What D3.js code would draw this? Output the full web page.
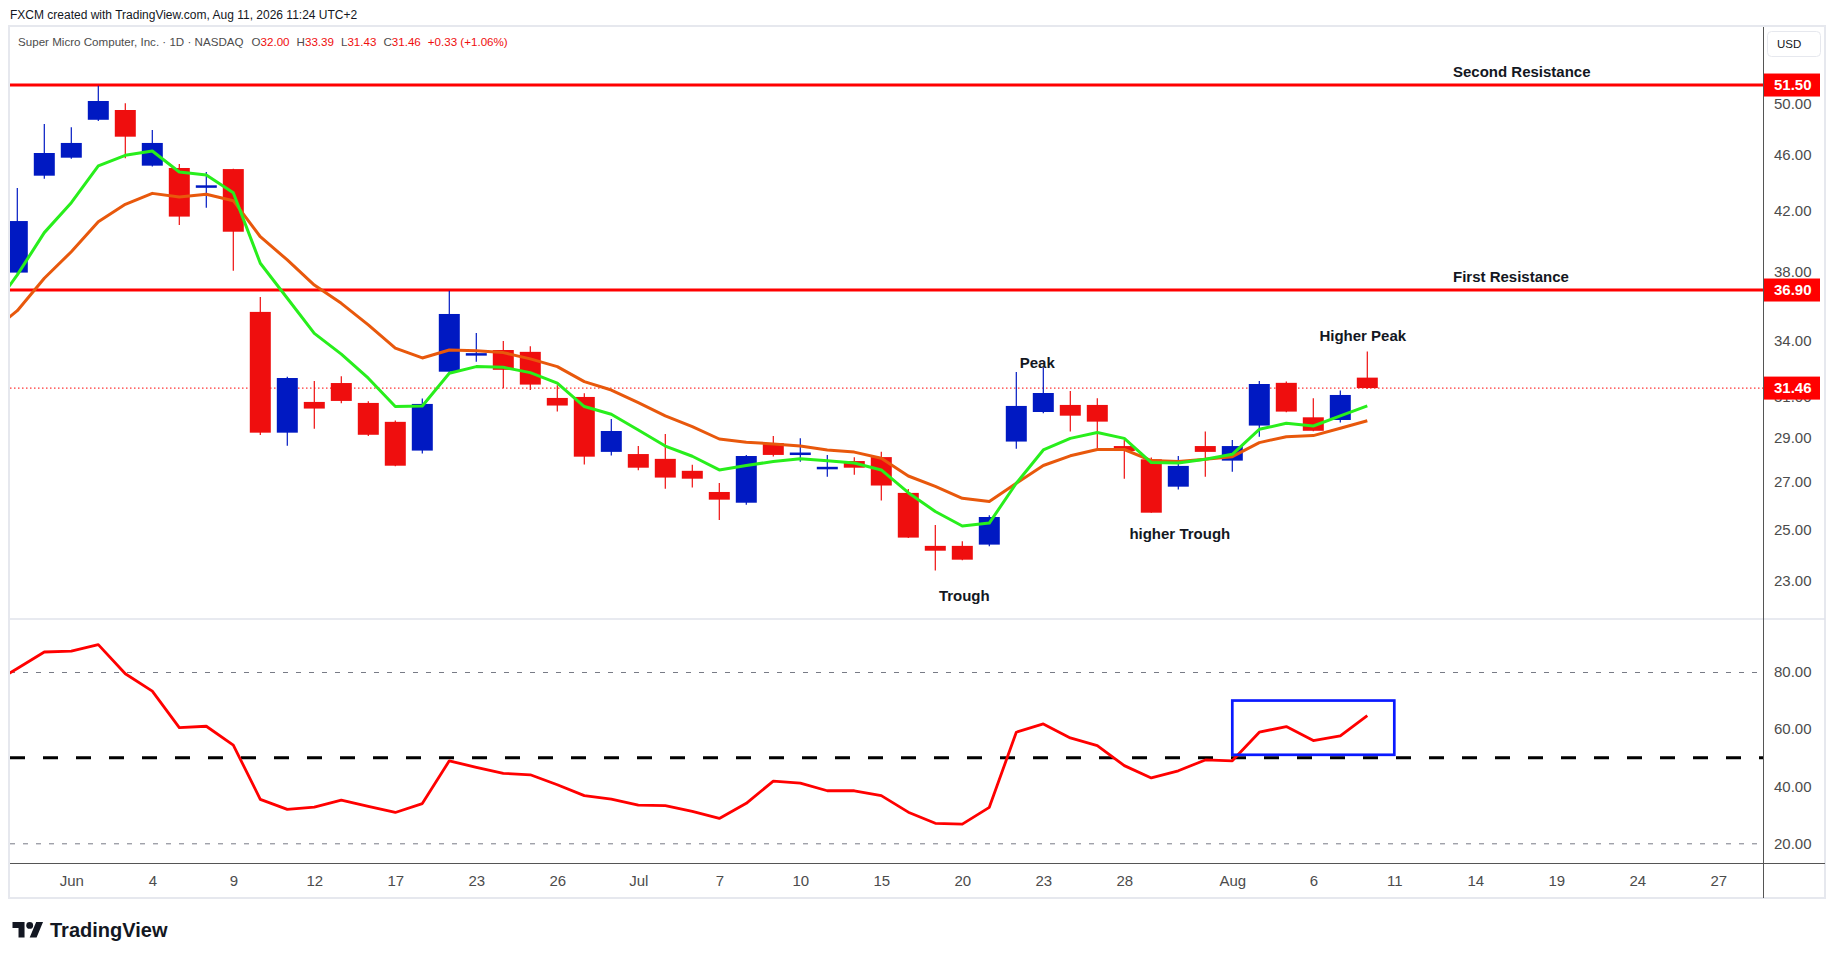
<!DOCTYPE html>
<html>
<head>
<meta charset="utf-8">
<script src="https://cdn.jsdelivr.net/npm/d3@7"></script>
<style>
  html, body { margin: 0; padding: 0; background: #ffffff; }
  svg { display: block; font-family: "Liberation Sans", Arial, sans-serif; }
</style>
</head>
<body>
<svg id="chart" width="1835" height="959"></svg>
<script>
// ---------------- DATA ----------------
// all trading days on the time scale (first one lies just off the left edge)
const days = [
  "2026-05-27","2026-05-28","2026-05-29",
  "2026-06-01","2026-06-02","2026-06-03","2026-06-04","2026-06-05",
  "2026-06-08","2026-06-09","2026-06-10","2026-06-11","2026-06-12",
  "2026-06-15","2026-06-16","2026-06-17","2026-06-18",
  "2026-06-22","2026-06-23","2026-06-24","2026-06-25","2026-06-26",
  "2026-06-29","2026-06-30",
  "2026-07-01","2026-07-02",
  "2026-07-06","2026-07-07","2026-07-08","2026-07-09","2026-07-10",
  "2026-07-13","2026-07-14","2026-07-15","2026-07-16","2026-07-17",
  "2026-07-20","2026-07-21","2026-07-22","2026-07-23","2026-07-24",
  "2026-07-27","2026-07-28","2026-07-29","2026-07-30","2026-07-31",
  "2026-08-03","2026-08-04","2026-08-05","2026-08-06","2026-08-07",
  "2026-08-10","2026-08-11","2026-08-12","2026-08-13","2026-08-14",
  "2026-08-17","2026-08-18","2026-08-19","2026-08-20","2026-08-21",
  "2026-08-24","2026-08-25","2026-08-26","2026-08-27","2026-08-28"
];
// candle dates (May 28 .. Aug 10)
const candleDates = days.slice(1, 52);

const open  = [37.96,44.44,45.76,48.67,49.45,45.17,45.00,43.58,44.92,35.61,
               29.26,30.76,31.72,30.71,29.78,28.42,32.31,33.20,33.47,33.37,
               30.96,31.01,28.36,28.26,28.04,27.50,26.57,26.11,28.77,28.27,
               27.63,27.94,28.12,26.53,24.34,24.34,24.39,28.84,30.26,30.61,
               30.61,28.63,28.02,26.80,28.63,27.96,29.60,31.73,30.00,29.87,
               32.00];
const high  = [43.56,48.33,48.08,51.44,50.00,47.86,45.29,44.71,44.95,36.48,
               32.05,31.83,32.07,30.80,29.85,30.93,36.85,34.41,33.96,33.67,
               31.60,31.20,29.92,28.63,29.20,27.77,26.96,28.22,29.10,28.99,
               28.22,28.11,28.37,26.70,25.18,24.52,25.58,32.30,32.55,31.31,
               30.95,28.91,28.10,28.17,29.31,28.91,31.83,31.80,30.95,31.34,
               33.39];
const low   = [37.90,44.22,45.68,48.57,45.72,45.10,41.01,42.18,38.08,29.15,
               28.65,29.45,30.70,29.10,27.70,28.28,32.25,32.84,31.45,31.36,
               30.28,27.78,28.19,27.53,26.71,26.76,25.39,26.02,28.15,27.91,
               27.24,27.33,26.20,24.65,23.38,23.78,24.33,28.51,30.20,29.31,
               28.53,27.15,25.69,26.68,27.24,27.46,29.07,30.25,29.33,29.75,
               31.43];
const close = [41.28,46.11,46.87,50.18,47.35,46.87,41.58,43.75,40.57,29.26,
               31.98,30.43,30.81,29.16,27.73,30.66,35.49,33.30,32.41,31.64,
               30.58,28.14,29.34,27.64,27.20,27.15,26.24,28.17,28.22,28.33,
               27.68,27.64,26.85,24.67,24.15,23.80,25.51,30.56,31.21,30.08,
               29.79,28.40,25.69,27.72,28.36,28.63,31.67,30.28,29.35,31.11,
               31.46];

// moving averages, aligned with days[0..51] (May 27 .. Aug 10)
const maFast = [35.60,37.82,40.51,42.53,45.15,45.94,46.26,44.71,44.49,43.23,
                38.54,36.41,34.39,33.25,31.97,30.53,30.56,32.23,32.58,32.54,
                32.26,31.71,30.53,30.15,29.39,28.63,28.16,27.54,27.74,27.92,
                28.05,27.95,27.85,27.54,26.54,25.74,25.14,25.26,26.95,28.45,
                28.99,29.27,28.99,27.87,27.85,28.02,28.25,29.42,29.71,29.58,
                30.07,30.56];
const maSlow = [34.42,35.68,37.61,39.27,41.24,42.42,43.18,42.93,43.12,42.67,
                40.24,38.75,37.20,36.11,34.87,33.57,33.04,33.47,33.43,33.33,
                32.99,32.58,31.79,31.36,30.72,30.07,29.55,28.96,28.81,28.73,
                28.63,28.45,28.35,28.07,27.27,26.81,26.30,26.16,26.95,27.74,
                28.18,28.47,28.47,27.96,27.92,28.02,28.14,28.79,29.07,29.12,
                29.47,29.83];
// oscillator (RSI-like), aligned with days[0..51]
const rsi = [75.6,81.2,87.0,87.3,89.6,79.4,73.3,60.5,61.0,54.4,
             35.4,31.9,32.7,35.1,32.9,30.8,33.9,48.9,46.6,44.5,
             44.0,40.5,36.7,35.5,33.4,33.2,31.2,28.7,34.0,41.8,
             41.1,38.4,38.4,36.7,30.9,27.0,26.7,32.6,58.9,61.8,
             56.9,54.2,47.2,42.9,45.4,49.2,48.9,58.9,60.9,56.0,
             57.6,64.7];

const priceTicks = [50, 46, 42, 38, 34, 31, 29, 27, 25, 23];
const rsiTicks = [80, 60, 40, 20];
const rsiLevels = [80, 20];
const rsiMid = 50;

const timeTickDates = ["2026-06-01","2026-06-04","2026-06-09","2026-06-12","2026-06-17",
  "2026-06-23","2026-06-26","2026-07-01","2026-07-07","2026-07-10","2026-07-15",
  "2026-07-20","2026-07-23","2026-07-28","2026-08-03","2026-08-06","2026-08-11",
  "2026-08-14","2026-08-19","2026-08-24","2026-08-27"];
const timeTickLabels = ["Jun","4","9","12","17","23","26","Jul","7","10","15",
  "20","23","28","Aug","6","11","14","19","24","27"];

const resistanceLevels = [51.50, 36.90];
const resistanceNames = ["Second Resistance", "First Resistance"];
const lastClose = 31.46;

const annoTexts  = ["Peak", "Trough", "higher Trough", "Higher Peak"];
const annoDates  = ["2026-07-23", "2026-07-20", "2026-07-30", "2026-08-10"];
const annoPrices = [32.77, 22.44, 24.81, 34.26];

const boxDates = ["2026-08-03", "2026-08-11"];
const boxValues = [51, 70];

const headerText = "FXCM created with TradingView.com, Aug 11, 2026 11:24 UTC+2";
const symbolText = "Super Micro Computer, Inc. · 1D · NASDAQ";
const ohlcLabels = ["O", "H", "L", "C"];
const ohlcValues = ["32.00", "33.39", "31.43", "31.46"];
const changeText = "+0.33 (+1.06%)";

// ---------------- LAYOUT ----------------
const svg = d3.select("#chart");
const L = 10, AX = 1763, FR = 1825, TOP = 27, SEP = 619, RB = 863, FB = 898;
const UP = "#0019c2", DOWN = "#ef0e0e", RED = "#ff0000";
const GRAYTXT = "#4c4c4c";

const x = d3.scalePoint().domain(days).range([-9.7, -9.7 + 27 * (days.length - 1)]);
const y = d3.scaleLog().domain([23, 50]).range([580.7, 103.2]);
const yr = d3.scaleLinear().domain([20, 80]).range([843.3, 672]);

// defs / clips
const defs = svg.append("defs");
defs.append("clipPath").attr("id", "clipP").append("rect")
  .attr("x", L).attr("y", TOP).attr("width", AX - L).attr("height", SEP - TOP);
defs.append("clipPath").attr("id", "clipR").append("rect")
  .attr("x", L).attr("y", SEP + 1).attr("width", AX - L).attr("height", RB - SEP - 1);

// header
svg.append("text").attr("x", 10).attr("y", 19).attr("font-size", 12)
  .attr("fill", "#131722").text(headerText);

// frame
svg.append("rect").attr("x", 9).attr("y", 26).attr("width", FR - 9).attr("height", FB - 26)
  .attr("fill", "none").attr("stroke", "#e6e8ee").attr("stroke-width", 2);

// pane separator and axes lines
svg.append("line").attr("x1", L).attr("x2", FR).attr("y1", SEP).attr("y2", SEP)
  .attr("stroke", "#e0e3eb").attr("stroke-width", 1.5);
svg.append("line").attr("x1", L).attr("x2", FR).attr("y1", RB + 0.5).attr("y2", RB + 0.5)
  .attr("stroke", "#555").attr("stroke-width", 1);
svg.append("line").attr("x1", AX + 0.5).attr("x2", AX + 0.5).attr("y1", TOP).attr("y2", FB)
  .attr("stroke", "#555").attr("stroke-width", 1);

// ---------------- PRICE PANE ----------------
const gP = svg.append("g").attr("clip-path", "url(#clipP)");

// last price dotted line
gP.append("line").attr("x1", L).attr("x2", AX).attr("y1", y(lastClose)).attr("y2", y(lastClose))
  .attr("stroke", RED).attr("stroke-width", 1).attr("stroke-dasharray", "1.5 2.5");

// resistance lines
gP.selectAll(".res").data(resistanceLevels).join("line")
  .attr("x1", L).attr("x2", AX).attr("y1", d => y(d)).attr("y2", d => y(d))
  .attr("stroke", RED).attr("stroke-width", 3);

// candles
const candles = candleDates.map((d, i) => ({d, o: open[i], h: high[i], l: low[i], c: close[i]}));
const gC = gP.append("g");
gC.selectAll(".wick").data(candles).join("line")
  .attr("x1", d => x(d.d)).attr("x2", d => x(d.d))
  .attr("y1", d => y(d.h)).attr("y2", d => y(d.l))
  .attr("stroke", d => d.c >= d.o ? UP : DOWN).attr("stroke-width", 1.2);
gC.selectAll(".body").data(candles).join("rect")
  .attr("x", d => x(d.d) - 10.5).attr("width", 21)
  .attr("y", d => Math.min(y(d.o), y(d.c)))
  .attr("height", d => Math.max(2.5, Math.abs(y(d.o) - y(d.c))))
  .attr("fill", d => d.c >= d.o ? UP : DOWN);

// moving averages
const lineDates = days.slice(0, 52);
const maLine = arr => d3.line().x((v, i) => x(lineDates[i])).y(v => y(v))(arr);
gP.append("path").attr("d", maLine(maSlow)).attr("fill", "none")
  .attr("stroke", "#e8580c").attr("stroke-width", 3).attr("stroke-linejoin", "round");
gP.append("path").attr("d", maLine(maFast)).attr("fill", "none")
  .attr("stroke", "#28ee1c").attr("stroke-width", 3).attr("stroke-linejoin", "round");

// resistance names
svg.selectAll(".resName").data(resistanceLevels).join("text")
  .attr("x", 1453).attr("y", d => y(d) - 8)
  .attr("font-size", 15).attr("font-weight", "bold").attr("fill", "#131722")
  .text((d, i) => resistanceNames[i]);

// annotations
svg.selectAll(".anno").data(annoTexts).join("text")
  .attr("x", (t, i) => x(annoDates[i]) + [-6, 2, 1.5, -4.5][i])
  .attr("y", (t, i) => y(annoPrices[i]))
  .attr("dy", "0.35em").attr("text-anchor", "middle")
  .attr("font-size", 15).attr("font-weight", "bold").attr("fill", "#131722")
  .text(t => t);

// legend line
const leg = svg.append("text").attr("x", 18).attr("y", 45.5).attr("font-size", 11.6);
leg.append("tspan").attr("fill", GRAYTXT).text(symbolText);
ohlcLabels.forEach((lab, i) => {
  leg.append("tspan").attr("dx", i === 0 ? 8 : 7).attr("fill", GRAYTXT).text(lab);
  leg.append("tspan").attr("fill", DOWN).text(ohlcValues[i]);
});
leg.append("tspan").attr("dx", 7).attr("fill", DOWN).text(changeText);

// price axis
const pAxis = svg.append("g").attr("transform", `translate(${AX},0)`)
  .call(d3.axisRight(y).tickValues(priceTicks).tickFormat(d3.format(".2f")).tickSize(0).tickPadding(11));
pAxis.select(".domain").remove();
pAxis.selectAll("text").attr("font-size", 15).attr("fill", GRAYTXT)
  .attr("font-family", "'Liberation Sans', Arial, sans-serif");

// price labels on axis (drawn over the scale, hiding the ticks they cover)
const axisLabels = [...resistanceLevels, lastClose];
const gL = svg.append("g");
gL.selectAll("rect").data(axisLabels).join("rect")
  .attr("x", AX + 1).attr("y", d => y(d) - 11.5).attr("width", 56).attr("height", 23)
  .attr("fill", RED);
gL.selectAll("text").data(axisLabels).join("text")
  .attr("x", AX + 11).attr("y", d => y(d)).attr("dy", "0.36em")
  .attr("font-size", 15).attr("fill", "#ffffff").attr("font-weight", "bold")
  .text(d => d3.format(".2f")(d));

// USD box
svg.append("rect").attr("x", 1767.5).attr("y", 31.5).attr("width", 53).attr("height", 25)
  .attr("rx", 4).attr("fill", "#fff").attr("stroke", "#e6e8ee");
svg.append("text").attr("x", 1777).attr("y", 44).attr("dy", "0.36em")
  .attr("font-size", 11.5).attr("fill", "#131722").text("USD");

// ---------------- RSI PANE ----------------
const gR = svg.append("g").attr("clip-path", "url(#clipR)");
gR.selectAll(".lvl").data(rsiLevels).join("line")
  .attr("x1", L).attr("x2", AX).attr("y1", d => yr(d) + 0.5).attr("y2", d => yr(d) + 0.5)
  .attr("stroke", "#787b86").attr("stroke-width", 1).attr("stroke-dasharray", "5 8");
gR.append("line").attr("x1", L).attr("x2", AX).attr("y1", yr(rsiMid)).attr("y2", yr(rsiMid))
  .attr("stroke", "#000").attr("stroke-width", 3).attr("stroke-dasharray", "15 18");
gR.append("path")
  .attr("d", d3.line().x((v, i) => x(lineDates[i])).y(v => yr(v))(rsi))
  .attr("fill", "none").attr("stroke", RED).attr("stroke-width", 2.8).attr("stroke-linejoin", "round");
gR.append("rect")
  .attr("x", x(boxDates[0])).attr("y", yr(boxValues[1]))
  .attr("width", x(boxDates[1]) - x(boxDates[0])).attr("height", yr(boxValues[0]) - yr(boxValues[1]))
  .attr("fill", "none").attr("stroke", "#0a1aff").attr("stroke-width", 2.7);

const rAxis = svg.append("g").attr("transform", `translate(${AX},0)`)
  .call(d3.axisRight(yr).tickValues(rsiTicks).tickFormat(d3.format(".2f")).tickSize(0).tickPadding(11));
rAxis.select(".domain").remove();
rAxis.selectAll("text").attr("font-size", 15).attr("fill", GRAYTXT)
  .attr("font-family", "'Liberation Sans', Arial, sans-serif");

// ---------------- TIME AXIS ----------------
const tAxis = svg.append("g").attr("transform", `translate(0,${RB})`)
  .call(d3.axisBottom(x).tickValues(timeTickDates)
    .tickFormat(d => timeTickLabels[timeTickDates.indexOf(d)]).tickSize(0).tickPadding(12));
tAxis.select(".domain").remove();
tAxis.selectAll("text").attr("font-size", 15).attr("fill", GRAYTXT)
  .attr("font-family", "'Liberation Sans', Arial, sans-serif");

// ---------------- LOGO ----------------
const logo = svg.append("g").attr("transform", "translate(12.5,918.5) scale(0.86)");
logo.append("path").attr("d", "M14 22H7V11H0V4h14v18zM28 22h-8l7.5-18h8L28 22z").attr("fill", "#131722");
logo.append("circle").attr("cx", 20).attr("cy", 8).attr("r", 4).attr("fill", "#131722");
svg.append("text").attr("x", 50).attr("y", 936.5).attr("font-size", 20).attr("font-weight", "bold")
  .attr("fill", "#131722").text("TradingView");
</script>
</body>
</html>
